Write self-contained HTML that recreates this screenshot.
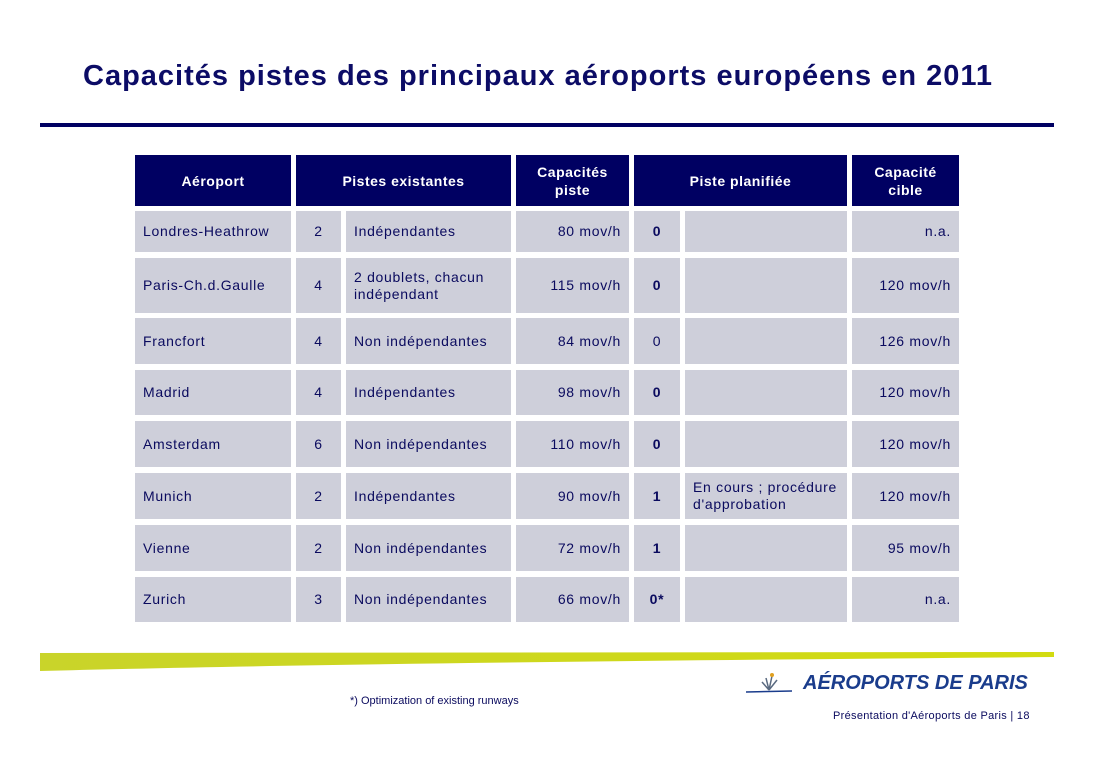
<!DOCTYPE html>
<html><head><meta charset="utf-8">
<style>
body{margin:0;width:1093px;height:770px;background:#fff;position:relative;overflow:hidden;font-family:"Liberation Sans",sans-serif;}
.c{position:absolute;background:#cecfda;color:#0a0a5e;font-size:14px;letter-spacing:0.7px;display:flex;align-items:center;box-sizing:border-box;padding:0 8px;line-height:17px;}
.h{position:absolute;background:#000062;color:#fff;font-size:14px;letter-spacing:0.5px;font-weight:bold;display:flex;align-items:center;justify-content:center;text-align:center;line-height:18px;}
.r{justify-content:flex-end;}
.m{justify-content:center;}
.b{font-weight:bold;}
</style></head><body>
<div style="position:absolute;left:83px;top:60px;font-size:29px;letter-spacing:1px;font-weight:bold;color:#0c0c66;white-space:nowrap;">Capacités pistes des principaux aéroports européens en 2011</div>
<div style="position:absolute;left:40px;top:123px;width:1014px;height:4px;background:#000062;"></div>

<div class="h" style="left:135px;top:155px;width:156px;height:51px;">Aéroport</div>
<div class="h" style="left:296px;top:155px;width:215px;height:51px;">Pistes existantes</div>
<div class="h" style="left:516px;top:155px;width:113px;height:51px;">Capacités<br>piste</div>
<div class="h" style="left:634px;top:155px;width:213px;height:51px;">Piste planifiée</div>
<div class="h" style="left:852px;top:155px;width:107px;height:51px;">Capacité<br>cible</div>

<div id="tbl"></div>

<svg style="position:absolute;left:0;top:0" width="1093" height="770">
<defs><linearGradient id="g" x1="0" x2="1"><stop offset="0" stop-color="#c9d42a"/><stop offset="1" stop-color="#d2db10"/></linearGradient></defs>
<path d="M40 653 L1054 652 L1054 657 C700 660 300 664 40 671 Z" fill="url(#g)"/>
</svg>
<svg style="position:absolute;left:744px;top:670px" width="50" height="24">
<line x1="2" y1="22" x2="48" y2="21" stroke="#1a3c8c" stroke-width="1.5"/>
<path d="M25 20 L22 8 M25 20 L28 6 M25 20 L33 10 M25 20 L18 12" stroke="#5a6a80" stroke-width="1.5" fill="none"/>
<circle cx="28" cy="5" r="2" fill="#e0a020"/>
</svg>
<div style="position:absolute;left:803px;top:672px;font-size:20px;font-weight:bold;font-style:italic;color:#1a3c8c;white-space:nowrap;">AÉROPORTS DE PARIS</div>
<div style="position:absolute;left:350px;top:695px;font-size:11px;color:#0a0a5e;white-space:nowrap;">*) Optimization of existing runways</div>
<div style="position:absolute;left:833px;top:710px;font-size:11px;color:#0a0a5e;white-space:nowrap;letter-spacing:0.3px;">Présentation d'Aéroports de Paris | 18</div>

<script>
const airports=["Londres-Heathrow","Paris-Ch.d.Gaulle","Francfort","Madrid","Amsterdam","Munich","Vienne","Zurich"];
const pistes=["2","4","4","4","6","2","2","3"];
const types=["Indépendantes","2 doublets, chacun<br>indépendant","Non indépendantes","Indépendantes","Non indépendantes","Indépendantes","Non indépendantes","Non indépendantes"];
const capacites=["80 mov/h","115 mov/h","84 mov/h","98 mov/h","110 mov/h","90 mov/h","72 mov/h","66 mov/h"];
const planned=["0","0","0","0","0","1","1","0*"];
const plannedBold=[1,1,0,1,1,1,1,1];
const plannedNote=["","","","","","En cours ; procédure<br>d'approbation","",""];
const cibles=["n.a.","120 mov/h","126 mov/h","120 mov/h","120 mov/h","120 mov/h","95 mov/h","n.a."];
const rowTops=[211,258,318,370,421,473,525,577];
const rowHeights=[41,55,46,45,46,46,46,45];
const cols=[[135,156,""],[296,45,"m"],[346,165,""],[516,113,"r"],[634,46,"m"],[685,162,""],[852,107,"r"]];
const t=document.getElementById('tbl');
for(let i=0;i<airports.length;i++){
  const vals=[airports[i],pistes[i],types[i],capacites[i],planned[i],plannedNote[i],cibles[i]];
  const names=['airport','pistes-count','pistes-type','capacite-piste','piste-planifiee','piste-note','capacite-cible'];
  for(let j=0;j<7;j++){
    const d=document.createElement('div');
    let cls='c '+cols[j][2];
    if(j===4&&plannedBold[i])cls+=' b';
    d.className=cls;
    d.style.left=cols[j][0]+'px';d.style.width=cols[j][1]+'px';
    d.style.top=rowTops[i]+'px';d.style.height=rowHeights[i]+'px';
    d.innerHTML=vals[j];
    
    
    t.appendChild(d);
  }
}
</script>
</body></html>
